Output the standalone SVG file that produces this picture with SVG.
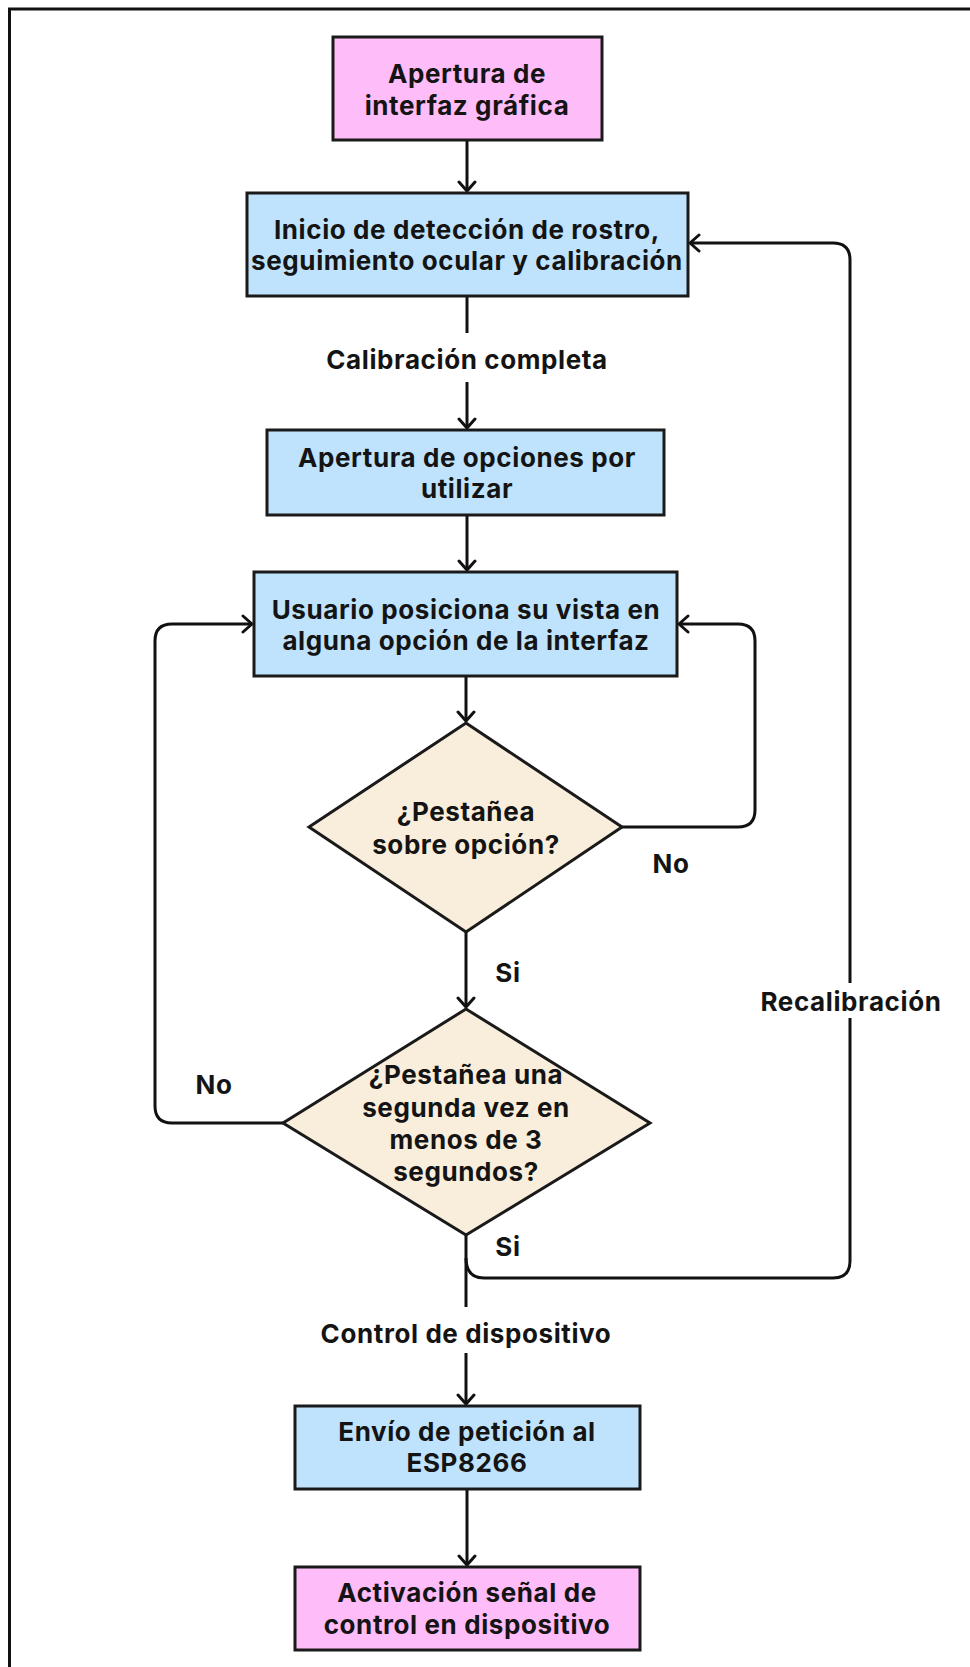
<svg xmlns="http://www.w3.org/2000/svg" width="970" height="1667" viewBox="0 0 970 1667">
<defs>
<style>
.t{font-family:Inter,"Open Sans","Liberation Sans",sans-serif;font-weight:700;font-size:26px;letter-spacing:0.6px;fill:#141414;text-anchor:middle}
.box{stroke:#1a1a1a;stroke-width:3}
.pink{fill:#FEBCF8}
.blue{fill:#BFE3FC}
.dia{fill:#F9EEDC;stroke:#1a1a1a;stroke-width:3}
.c{fill:none;stroke:#111;stroke-width:3;stroke-linejoin:round}
</style>
<marker id="arr" viewBox="0 0 20 20" markerWidth="20" markerHeight="20" refX="17" refY="10" orient="auto" markerUnits="userSpaceOnUse">
<path d="M8,2 L17,10 L8,18" fill="none" stroke="#111" stroke-width="3" stroke-linecap="round" stroke-linejoin="round"/>
</marker>
</defs>
<rect width="970" height="1667" fill="#ffffff"/>
<path d="M9.5 1667 V9 H970" fill="none" stroke="#111" stroke-width="3"/>

<g id="connectors">
<path class="c" d="M467 140 V191" marker-end="url(#arr)"/>
<path class="c" d="M467 296 V333"/>
<path class="c" d="M467 382 V428" marker-end="url(#arr)"/>
<path class="c" d="M467 515 V570" marker-end="url(#arr)"/>
<path class="c" d="M466 676 V721" marker-end="url(#arr)"/>
<path class="c" d="M466 932 V1007" marker-end="url(#arr)"/>
<path class="c" d="M622 827 H738 Q755 827 755 810 V641 Q755 624 738 624 H679" marker-end="url(#arr)"/>
<path class="c" d="M283 1123 H172 Q155 1123 155 1106 V641 Q155 624 172 624 H252" marker-end="url(#arr)"/>
<path class="c" d="M466 1235 V1307"/>
<path class="c" d="M466 1353 V1404" marker-end="url(#arr)"/>
<path class="c" d="M466 1258 Q466 1278 484 1278 H833 Q850 1278 850 1261 V1018"/>
<path class="c" d="M850 983 V260 Q850 243 833 243 H690" marker-end="url(#arr)"/>
<path class="c" d="M467 1489 V1565" marker-end="url(#arr)"/>
</g>

<g id="n1">
<rect class="box pink" x="333" y="37" width="269" height="103"/>
<text class="t" x="467" y="83">Apertura de</text>
<text class="t" x="467" y="115">interfaz gráfica</text>
</g>
<g id="n2">
<rect class="box blue" x="247" y="193" width="441" height="103"/>
<text class="t" x="467" y="239">Inicio de detección de rostro,</text>
<text class="t" x="467" y="270">seguimiento ocular y calibración</text>
</g>
<g id="l1"><text class="t" x="467" y="369">Calibración completa</text></g>
<g id="n3">
<rect class="box blue" x="267" y="430" width="397" height="85"/>
<text class="t" x="467" y="467">Apertura de opciones por</text>
<text class="t" x="467" y="498">utilizar</text>
</g>
<g id="n4">
<rect class="box blue" x="254" y="572" width="423" height="104"/>
<text class="t" x="466" y="619">Usuario posiciona su vista en</text>
<text class="t" x="466" y="650">alguna opción de la interfaz</text>
</g>
<g id="d1">
<polygon class="dia" points="466,723 622,827 466,932 309,827"/>
<text class="t" x="466" y="821">¿Pestañea</text>
<text class="t" x="466" y="854">sobre opción?</text>
</g>
<g id="l2"><text class="t" x="671" y="873">No</text></g>
<g id="l3"><text class="t" x="508" y="982">Si</text></g>
<g id="d2">
<polygon class="dia" points="466,1009 650,1123 466,1235 283,1123"/>
<text class="t" x="466" y="1084">¿Pestañea una</text>
<text class="t" x="466" y="1117">segunda vez en</text>
<text class="t" x="466" y="1149">menos de 3</text>
<text class="t" x="466" y="1181">segundos?</text>
</g>
<g id="l4"><text class="t" x="214" y="1094">No</text></g>
<g id="l5"><text class="t" x="508" y="1256">Si</text></g>
<g id="l6"><text class="t" x="851" y="1011">Recalibración</text></g>
<g id="l7"><text class="t" x="466" y="1343">Control de dispositivo</text></g>
<g id="n5">
<rect class="box blue" x="295" y="1406" width="345" height="83"/>
<text class="t" x="467" y="1441">Envío de petición al</text>
<text class="t" x="467" y="1472">ESP8266</text>
</g>
<g id="n6">
<rect class="box pink" x="295" y="1567" width="345" height="83"/>
<text class="t" x="467" y="1602">Activación señal de</text>
<text class="t" x="467" y="1634">control en dispositivo</text>
</g>
</svg>
